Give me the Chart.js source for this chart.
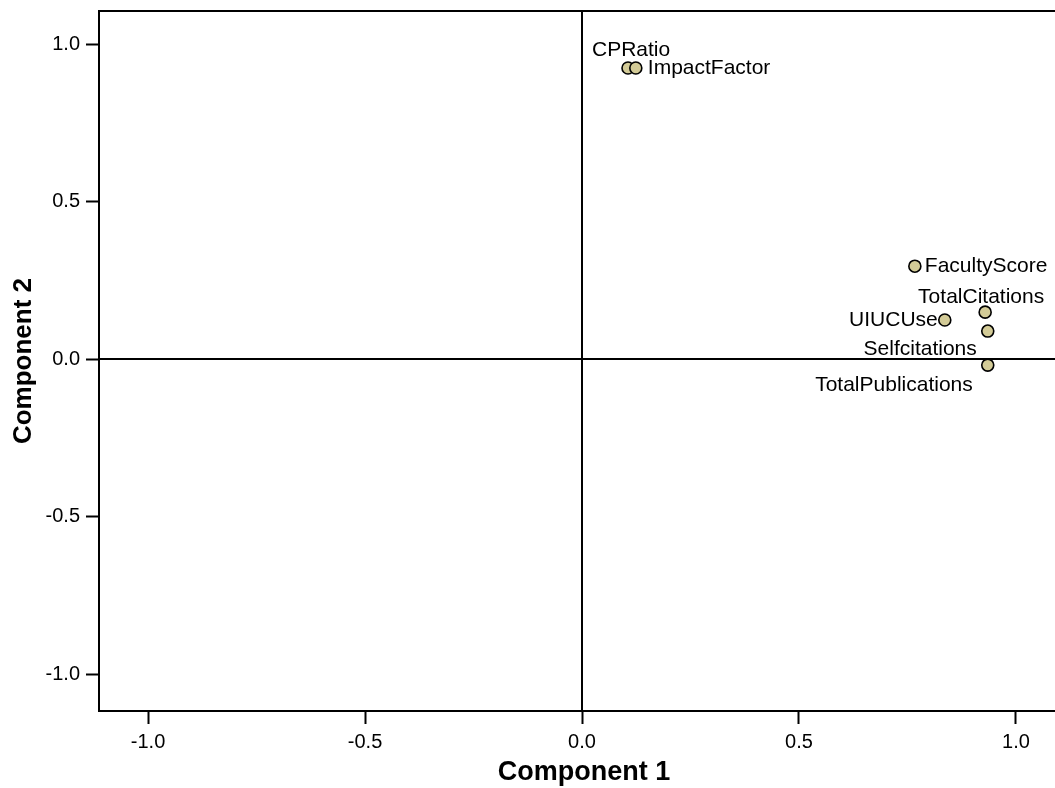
<!DOCTYPE html>
<html>
<head>
<meta charset="utf-8">
<script src="https://cdn.jsdelivr.net/npm/chart.js@4.4.0/dist/chart.umd.min.js"></script>
<style>
html,body{margin:0;padding:0;background:#fff;overflow:hidden;}
#wrap{position:relative;width:1066px;height:788px;}
canvas{display:block;}
</style>
</head>
<body>
<div id="wrap"><canvas id="c" width="1066" height="788" style="width:1066px;height:788px"></canvas></div>
<script>
// ---- data ----
const variableNames = ['CPRatio','ImpactFactor','FacultyScore','TotalCitations','UIUCUse','Selfcitations','TotalPublications'];
const component1 = [0.106, 0.124, 0.767, 0.929, 0.836, 0.935, 0.935];
const component2 = [0.924, 0.924, 0.295, 0.149, 0.124, 0.089, -0.019];
const xTickValues = [-1.0, -0.5, 0.0, 0.5, 1.0];
const yTickValues = [-1.0, -0.5, 0.0, 0.5, 1.0];
const xAxisTitle = 'Component 1';
const yAxisTitle = 'Component 2';

// ---- label placement (styling) ----
const labelPlacement = [
  {align:'left',  dx:-36, dy:-18},
  {align:'left',  dx:12,  dy:0},
  {align:'left',  dx:10,  dy:0},
  {align:'center',dx:-4,  dy:-15},
  {align:'right', dx:-7,  dy:0},
  {align:'right', dx:-11, dy:18},
  {align:'right', dx:-15, dy:20}
];

const FONT = '"Liberation Sans", Arial, Helvetica, sans-serif';

const points = component1.map((v,i)=>({x:v, y:component2[i]}));

const decorPlugin = {
  id:'decor',
  beforeDatasetsDraw(chart){
    const {ctx, chartArea:a, scales:{x,y}} = chart;
    ctx.save();
    ctx.strokeStyle = '#000';
    ctx.lineWidth = 2;
    ctx.beginPath();
    ctx.moveTo(a.left-1, a.top); ctx.lineTo(a.right, a.top);
    ctx.moveTo(a.right, a.top); ctx.lineTo(a.right, a.bottom);
    const x0 = Math.round(x.getPixelForValue(0));
    const y0 = Math.round(y.getPixelForValue(0));
    ctx.moveTo(x0, a.top); ctx.lineTo(x0, a.bottom);
    ctx.moveTo(a.left, y0); ctx.lineTo(a.right, y0);
    ctx.stroke();
    ctx.restore();
  },
  afterDatasetsDraw(chart){
    const {ctx, chartArea:a, scales:{x}} = chart;
    const meta = chart.getDatasetMeta(0);
    ctx.save();
    ctx.fillStyle = '#000';
    ctx.font = '21px ' + FONT;
    ctx.textBaseline = 'middle';
    meta.data.forEach((pt,i)=>{
      const p = labelPlacement[i];
      ctx.textAlign = p.align;
      ctx.fillText(variableNames[i], pt.x + p.dx, pt.y + p.dy);
    });
    ctx.textAlign = 'center';
    ctx.font = 'bold 27px ' + FONT;
    ctx.fillText(xAxisTitle, x.getPixelForValue(0) + 2, 773);
    ctx.font = 'bold 26px ' + FONT;
    ctx.translate(24, (a.top + a.bottom)/2);
    ctx.rotate(-Math.PI/2);
    ctx.fillText(yAxisTitle, 0, 0);
    ctx.restore();
  }
};

new Chart(document.getElementById('c'), {
  type:'scatter',
  data:{
    datasets:[{
      data: points,
      pointRadius: 6,
      pointHoverRadius: 6,
      pointBackgroundColor: '#d3cb97',
      pointBorderColor: '#000',
      pointBorderWidth: 1.6
    }]
  },
  options:{
    responsive:false,
    animation:false,
    devicePixelRatio:1,
    layout:{autoPadding:false, padding:{top:11, right:1, left:0, bottom:0}},
    plugins:{legend:{display:false}, tooltip:{enabled:false}},
    scales:{
      x:{
        type:'linear', min:-1.113, max:1.113,
        afterBuildTicks(s){ s.ticks = xTickValues.map(v=>({value:v})); },
        afterFit(s){ s.height = 77; s.paddingLeft = 0; s.paddingRight = 0; },
        ticks:{ color:'#000', font:{family:FONT, size:20}, padding:6, maxRotation:0,
          callback:(v)=>Number(v).toFixed(1) },
        grid:{ drawOnChartArea:false, drawTicks:true, tickLength:13, tickWidth:2, tickColor:'#000' },
        border:{ display:true, color:'#000', width:2 }
      },
      y:{
        type:'linear', min:-1.117, max:1.105,
        afterBuildTicks(s){ s.ticks = yTickValues.map(v=>({value:v})); },
        afterFit(s){ s.width = 99; s.paddingTop = 0; s.paddingBottom = 0; },
        ticks:{ color:'#000', font:{family:FONT, size:20}, padding:6,
          callback:(v)=>Number(v).toFixed(1) },
        grid:{ drawOnChartArea:false, drawTicks:true, tickLength:13, tickWidth:2, tickColor:'#000' },
        border:{ display:true, color:'#000', width:2 }
      }
    }
  },
  plugins:[decorPlugin]
});
</script>
</body>
</html>
